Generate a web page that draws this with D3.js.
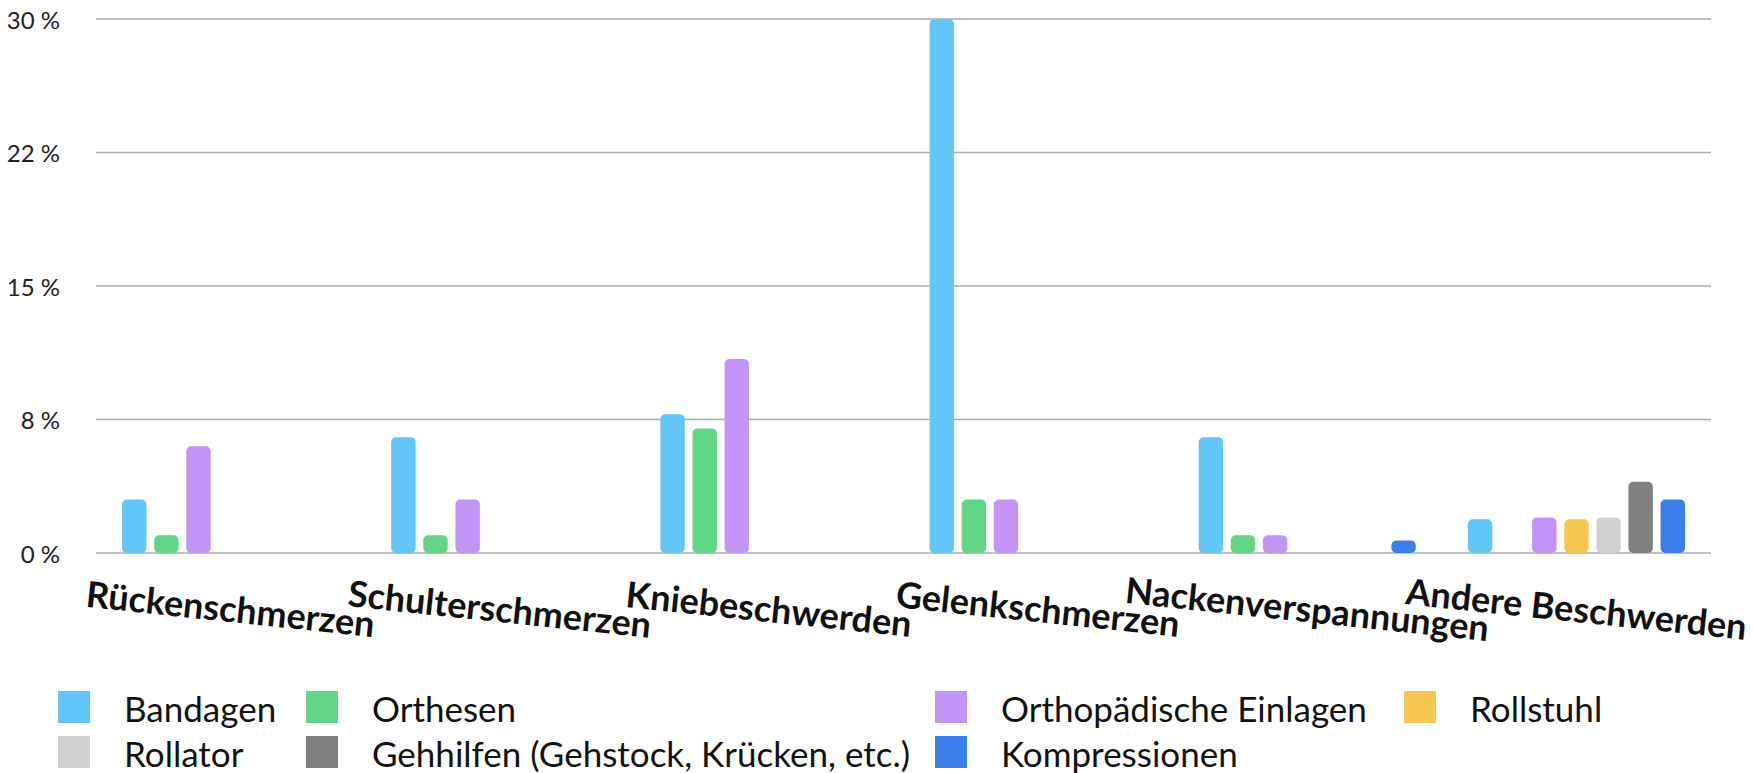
<!DOCTYPE html>
<html>
<head>
<meta charset="utf-8">
<script src="https://cdn.jsdelivr.net/npm/d3@7"></script>
<style>
  body { margin: 0; background: #fff; }
  svg { display: block; font-family: Lato, "Noto Sans", sans-serif; }
</style>
</head>
<body>
<svg></svg>
<script>
// Data
const categories = ["Rückenschmerzen", "Schulterschmerzen", "Kniebeschwerden", "Gelenkschmerzen", "Nackenverspannungen", "Andere Beschwerden"];
const seriesNames = ["Bandagen", "Orthesen", "Orthopädische Einlagen", "Rollstuhl", "Rollator", "Gehhilfen (Gehstock, Krücken, etc.)", "Kompressionen"];
const seriesColors = ["#62c6f8", "#62d586", "#c194f6", "#f6c84f", "#d1d1d1", "#808080", "#3a7eea"];
const bandagen      = [3.0, 6.5, 7.8, 30.0, 6.5, 1.9];
const orthesen      = [1.0, 1.0, 7.0, 3.0, 1.0, 0];
const einlagen      = [6.0, 3.0, 10.9, 3.0, 1.0, 2.0];
const rollstuhl     = [0, 0, 0, 0, 0, 1.9];
const rollator      = [0, 0, 0, 0, 0, 2.0];
const gehhilfen     = [0, 0, 0, 0, 0, 4.0];
const kompressionen = [0, 0, 0, 0, 0.7, 3.0];
const yTicks = [0, 7.5, 15, 22.5, 30];
const yTickLabels = ["0 %", "8 %", "15 %", "22 %", "30 %"];

const seriesValues = [bandagen, orthesen, einlagen, rollstuhl, rollator, gehhilfen, kompressionen];

// Get SVG element and set view dimensions
const svg = d3.select("svg");
const width = 1753;
const height = 773;
svg.attr("width", width).attr("height", height);

const plot = {left: 96, right: 1711, top: 19, bottom: 553};

const x0 = d3.scaleBand()
    .domain(categories)
    .range([plot.left, plot.right]);

const x1 = d3.scaleBand()
    .domain(seriesNames)
    .range([0, x0.bandwidth()])
    .paddingInner(0.24)
    .paddingOuter(0.81);

const y = d3.scaleLinear()
    .domain([0, 30])
    .range([plot.bottom, plot.top]);

// Gridlines
svg.append("g")
    .selectAll("line")
    .data(yTicks)
    .join("line")
    .attr("x1", plot.left)
    .attr("x2", plot.right)
    .attr("y1", d => y(d))
    .attr("y2", d => y(d))
    .attr("stroke", "#ababab")
    .attr("stroke-width", 1.5);

// Y tick labels
svg.append("g")
    .selectAll("text")
    .data(yTicks)
    .join("text")
    .attr("x", 60)
    .attr("y", d => y(d))
    .attr("text-anchor", "end")
    .attr("dominant-baseline", "central")
    .style("font-size", "24px")
    .style("fill", "#222")
    .text((d, i) => yTickLabels[i]);

// Bars
const barData = [];
categories.forEach((c, ci) => {
    seriesNames.forEach((s, si) => {
        const v = seriesValues[si][ci];
        if (v > 0) barData.push({category: c, series: s, value: v, color: seriesColors[si]});
    });
});

svg.append("g")
    .selectAll("rect")
    .data(barData)
    .join("rect")
    .attr("x", d => x0(d.category) + x1(d.series))
    .attr("y", d => y(d.value))
    .attr("width", x1.bandwidth())
    .attr("height", d => y(0) - y(d.value))
    .attr("rx", d => Math.min(5, (y(0) - y(d.value)) / 2))
    .attr("fill", d => d.color);

// Category labels (slightly slanted)
svg.append("g")
    .selectAll("text")
    .data(categories)
    .join("text")
    .attr("transform", d => `translate(${x0(d) + x0.bandwidth() / 2},608) rotate(6)`)
    .attr("text-anchor", "middle")
    .attr("dominant-baseline", "central")
    .style("font-size", "36px")
    .style("font-weight", "bold")
    .style("fill", "#111")
    .text(d => d);

// Legend
const legendCols = [58, 306, 935, 1404];
const legendRows = [707, 752];
const legend = svg.append("g")
    .selectAll("g")
    .data(seriesNames)
    .join("g")
    .attr("transform", (d, i) => `translate(${legendCols[i % 4]},${legendRows[Math.floor(i / 4)]})`);

legend.append("rect")
    .attr("x", 0)
    .attr("y", -16)
    .attr("width", 32)
    .attr("height", 32)
    .attr("fill", (d, i) => seriesColors[i]);

legend.append("text")
    .attr("x", 66)
    .attr("y", 1)
    .attr("dominant-baseline", "central")
    .style("font-size", "35px")
    .style("fill", "#111")
    .text(d => d);
</script>
</body>
</html>
